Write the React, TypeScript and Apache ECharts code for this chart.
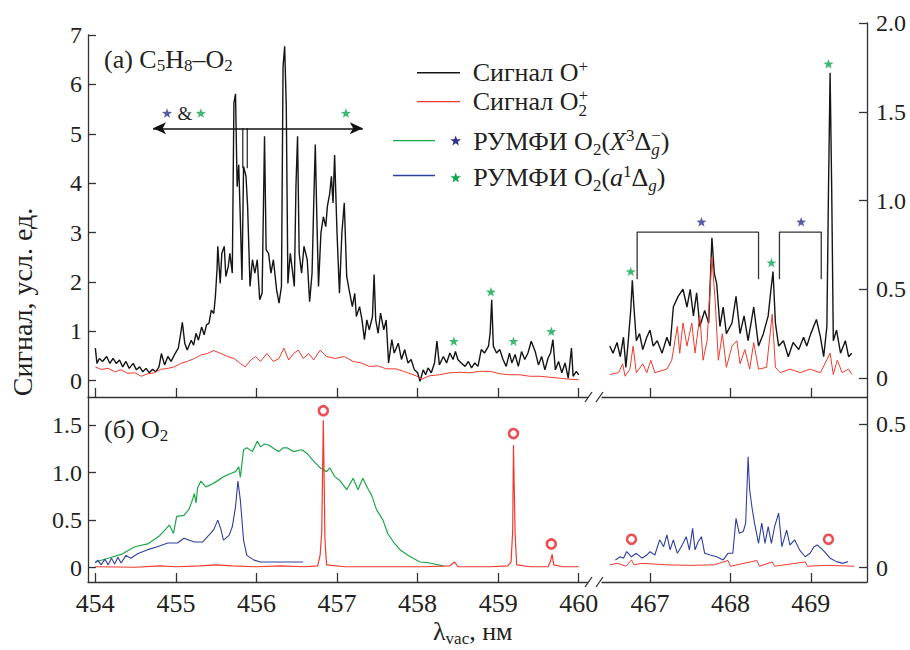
import React, { useEffect, useRef } from "react";
import * as echarts from "echarts";

const FONT = "Liberation Serif, Times New Roman, serif";
const TXT = "#231f20";
const AX = "#333333";
const C_BLACK = "#151515";
const C_RED = "#ef3a2e";
const C_GREEN = "#1fa64b";
const C_BLUE = "#2f3f9c";
const S_BLUE = "#2e3192";
const S_GREEN = "#10a650";

// ticks
const xTicksLeft = [454, 455, 456, 457, 458, 459, 460];
const xTicksRight = [467, 468, 469];
const yTicksTopLeft = [0, 1, 2, 3, 4, 5, 6, 7];
const yTicksTopRight = [0, 0.5, 1, 1.5, 2];
const yTicksBottomLeft = [0, 0.5, 1, 1.5];
const yTicksBottomRight = [0, 0.5];

// (a) C5H8-O2, signal O+ (left part, left axis)
const blackTopLeft = [
  [454.0, 0.66], [454.02, 0.35], [454.05, 0.45], [454.09, 0.39], [454.14, 0.49], [454.18, 0.35], [454.22, 0.45],
  [454.26, 0.35], [454.3, 0.42], [454.34, 0.28], [454.38, 0.39], [454.42, 0.25], [454.47, 0.35], [454.51, 0.22],
  [454.55, 0.28], [454.59, 0.18], [454.63, 0.25], [454.67, 0.16], [454.71, 0.23], [454.75, 0.18], [454.79, 0.28],
  [454.82, 0.55], [454.86, 0.32], [454.9, 0.49], [454.94, 0.39], [454.99, 0.55], [455.03, 0.66], [455.06, 0.96],
  [455.08, 1.18], [455.11, 0.76], [455.14, 0.62], [455.19, 0.82], [455.22, 0.72], [455.25, 0.96], [455.28, 0.82],
  [455.32, 1.09], [455.35, 0.93], [455.38, 1.13], [455.41, 1.16], [455.44, 1.43], [455.47, 1.36], [455.49, 1.7],
  [455.51, 2.24], [455.52, 2.72], [455.55, 1.97], [455.57, 2.58], [455.6, 2.72], [455.62, 2.11], [455.65, 2.31],
  [455.67, 2.58], [455.7, 2.18], [455.72, 5.62], [455.74, 5.81], [455.76, 3.93], [455.78, 4.37], [455.8, 3.26],
  [455.82, 2.04], [455.84, 4.34], [455.87, 4.14], [455.89, 3.53], [455.92, 1.91], [455.95, 2.45], [455.98, 2.18],
  [456.01, 2.45], [456.04, 1.64], [456.07, 1.77], [456.1, 4.95], [456.12, 2.65], [456.15, 2.58], [456.18, 2.18],
  [456.21, 2.45], [456.25, 1.84], [456.28, 1.57], [456.31, 1.91], [456.33, 6.36], [456.35, 6.77], [456.37, 5.55],
  [456.39, 1.97], [456.42, 2.58], [456.44, 2.31], [456.47, 1.91], [456.49, 3.93], [456.51, 4.95], [456.53, 2.58],
  [456.56, 2.18], [456.59, 2.72], [456.63, 2.45], [456.66, 1.6], [456.69, 2.18], [456.71, 3.53], [456.73, 4.78],
  [456.75, 3.26], [456.77, 1.91], [456.8, 2.99], [456.83, 3.32], [456.86, 3.12], [456.88, 3.53], [456.91, 3.8],
  [456.93, 4.14], [456.95, 3.6], [456.97, 4.57], [457.0, 2.99], [457.03, 1.77], [457.06, 2.99], [457.09, 3.6],
  [457.12, 2.11], [457.15, 1.84], [457.19, 1.5], [457.22, 1.77], [457.24, 1.3], [457.28, 1.5], [457.31, 1.23],
  [457.34, 0.83], [457.37, 1.23], [457.4, 1.03], [457.44, 1.3], [457.46, 2.15], [457.48, 1.23], [457.51, 0.96],
  [457.54, 1.37], [457.58, 1.03], [457.61, 1.23], [457.64, 0.36], [457.68, 0.83], [457.71, 0.56], [457.76, 0.76],
  [457.8, 0.43], [457.84, 0.63], [457.88, 0.36], [457.92, 0.43], [457.96, 0.22], [458.0, 0.16], [458.03, -0.01],
  [458.07, 0.22], [458.1, 0.12], [458.13, 0.26], [458.17, 0.16], [458.21, 0.36], [458.24, 0.8], [458.27, 0.32],
  [458.32, 0.49], [458.36, 0.36], [458.4, 0.56], [458.44, 0.43], [458.47, 0.59], [458.5, 0.43], [458.54, 0.36],
  [458.59, 0.29], [458.63, 0.39], [458.67, 0.26], [458.71, 0.36], [458.75, 0.29], [458.79, 0.63], [458.83, 0.56],
  [458.88, 0.7], [458.9, 0.96], [458.92, 1.64], [458.94, 0.7], [458.98, 0.56], [459.02, 0.63], [459.06, 0.43],
  [459.1, 0.29], [459.14, 0.56], [459.17, 0.36], [459.21, 0.53], [459.25, 0.29], [459.29, 0.59], [459.33, 0.43],
  [459.37, 0.56], [459.41, 0.8], [459.46, 0.59], [459.5, 0.32], [459.54, 0.49], [459.58, 0.22], [459.62, 0.46],
  [459.65, 0.56], [459.68, 0.83], [459.71, 0.22], [459.75, 0.39], [459.79, 0.16], [459.83, 0.36], [459.87, 0.05],
  [459.91, 0.66], [459.93, 0.09], [459.97, 0.19], [460.0, 0.12],
];

// (a) signal O2+ (left part)
const redTopLeft = [
  [454.0, 0.28], [454.07, 0.23], [454.16, 0.25], [454.24, 0.18], [454.32, 0.22], [454.4, 0.15], [454.49, 0.16],
  [454.57, 0.09], [454.65, 0.14], [454.73, 0.16], [454.81, 0.23], [454.9, 0.25], [454.98, 0.28], [455.06, 0.35],
  [455.14, 0.39], [455.23, 0.45], [455.31, 0.52], [455.39, 0.55], [455.47, 0.61], [455.56, 0.55], [455.64, 0.49],
  [455.72, 0.45], [455.8, 0.35], [455.86, 0.28], [455.93, 0.42], [455.99, 0.49], [456.05, 0.39], [456.13, 0.55],
  [456.21, 0.39], [456.28, 0.45], [456.34, 0.66], [456.4, 0.42], [456.46, 0.55], [456.52, 0.62], [456.58, 0.45],
  [456.65, 0.55], [456.71, 0.42], [456.79, 0.62], [456.87, 0.49], [456.98, 0.45], [457.09, 0.49], [457.2, 0.39],
  [457.3, 0.36], [457.4, 0.29], [457.51, 0.3], [457.61, 0.24], [457.73, 0.24], [457.86, 0.17], [457.98, 0.1],
  [458.05, 0.03], [458.15, 0.1], [458.27, 0.12], [458.4, 0.16], [458.52, 0.17], [458.65, 0.16], [458.77, 0.19],
  [458.9, 0.19], [459.02, 0.14], [459.15, 0.12], [459.27, 0.12], [459.39, 0.09], [459.52, 0.09], [459.64, 0.07],
  [459.77, 0.05], [459.89, 0.03], [460.0, 0.02],
];

// (a) signal O+ (right part, right axis)
const blackTopRight = [
  [466.5, 0.18], [466.54, 0.14], [466.59, 0.2], [466.63, 0.12], [466.67, 0.23], [466.7, 0.06], [466.73, 0.21],
  [466.76, 0.38], [466.78, 0.55], [466.8, 0.4], [466.83, 0.21], [466.87, 0.25], [466.91, 0.16], [466.96, 0.23],
  [467.0, 0.27], [467.04, 0.18], [467.09, 0.21], [467.15, 0.14], [467.21, 0.23], [467.25, 0.18], [467.29, 0.4],
  [467.35, 0.46], [467.41, 0.5], [467.46, 0.4], [467.5, 0.5], [467.54, 0.35], [467.58, 0.48], [467.62, 0.29],
  [467.68, 0.38], [467.73, 0.31], [467.77, 0.79], [467.8, 0.59], [467.83, 0.53], [467.87, 0.29], [467.91, 0.4],
  [467.95, 0.25], [468.02, 0.31], [468.07, 0.46], [468.12, 0.25], [468.17, 0.35], [468.22, 0.21], [468.29, 0.4],
  [468.35, 0.18], [468.41, 0.25], [468.47, 0.35], [468.5, 0.48], [468.53, 0.6], [468.56, 0.31], [468.6, 0.18],
  [468.66, 0.21], [468.72, 0.12], [468.78, 0.2], [468.85, 0.16], [468.91, 0.23], [468.95, 0.18], [469.0, 0.25],
  [469.07, 0.33], [469.12, 0.23], [469.16, 0.12], [469.2, 0.29], [469.22, 1.06], [469.24, 1.72], [469.26, 1.06],
  [469.28, 0.21], [469.32, 0.27], [469.37, 0.14], [469.43, 0.21], [469.47, 0.12], [469.51, 0.14],
];

// (a) signal O2+ (right part)
const redTopRight = [
  [466.5, 0.02], [466.61, 0.03], [466.66, 0.08], [466.69, 0.01], [466.75, 0.05], [466.79, 0.18], [466.83, 0.03],
  [466.91, 0.08], [466.96, 0.03], [467.01, 0.1], [467.06, 0.03], [467.21, 0.05], [467.27, 0.1], [467.34, 0.29],
  [467.37, 0.14], [467.41, 0.31], [467.46, 0.18], [467.52, 0.31], [467.56, 0.14], [467.62, 0.35], [467.66, 0.1],
  [467.71, 0.21], [467.77, 0.68], [467.81, 0.44], [467.85, 0.1], [467.9, 0.25], [467.95, 0.06], [468.02, 0.18],
  [468.08, 0.21], [468.12, 0.08], [468.18, 0.16], [468.24, 0.05], [468.29, 0.2], [468.35, 0.05], [468.45, 0.06],
  [468.52, 0.36], [468.56, 0.06], [468.62, 0.03], [468.74, 0.05], [468.87, 0.03], [468.99, 0.05], [469.12, 0.03],
  [469.24, 0.14], [469.28, 0.02], [469.33, 0.1], [469.39, 0.03], [469.47, 0.05], [469.51, 0.02],
];

// (б) O2: REMPI O2(X) (green)
const greenBottom = [
  [454.0, 0.06], [454.16, 0.1], [454.32, 0.14], [454.49, 0.22], [454.65, 0.25], [454.79, 0.33], [454.88, 0.41],
  [454.92, 0.45], [454.97, 0.36], [455.01, 0.54], [455.1, 0.55], [455.16, 0.61], [455.2, 0.7], [455.23, 0.78],
  [455.25, 0.68], [455.27, 0.84], [455.31, 0.91], [455.37, 0.85], [455.43, 0.87], [455.51, 0.91], [455.6, 0.96],
  [455.68, 0.99], [455.74, 1.01], [455.78, 1.06], [455.8, 0.95], [455.84, 1.24], [455.88, 1.26], [455.95, 1.22],
  [456.01, 1.33], [456.05, 1.27], [456.1, 1.3], [456.15, 1.29], [456.22, 1.25], [456.28, 1.22], [456.33, 1.26],
  [456.38, 1.26], [456.46, 1.22], [456.56, 1.24], [456.63, 1.2], [456.71, 1.12], [456.79, 1.05], [456.87, 1.01],
  [456.91, 1.05], [456.97, 0.96], [457.03, 0.92], [457.12, 0.82], [457.2, 0.94], [457.26, 0.82], [457.32, 0.94],
  [457.39, 0.82], [457.43, 0.76], [457.49, 0.61], [457.57, 0.5], [457.63, 0.36], [457.7, 0.27], [457.78, 0.19],
  [457.9, 0.12], [458.03, 0.06], [458.15, 0.05], [458.32, 0.02],
];

// (б) REMPI O2(a) (blue), left part
const blueBottomLeft = [
  [454.0, 0.05], [454.03, 0.08], [454.07, 0.03], [454.12, 0.09], [454.16, 0.03], [454.2, 0.1], [454.24, 0.04],
  [454.28, 0.11], [454.32, 0.05], [454.38, 0.13], [454.44, 0.1], [454.53, 0.15], [454.65, 0.19], [454.77, 0.22],
  [454.9, 0.26], [455.02, 0.26], [455.1, 0.31], [455.23, 0.27], [455.33, 0.27], [455.43, 0.36], [455.47, 0.4],
  [455.52, 0.5], [455.56, 0.4], [455.59, 0.29], [455.66, 0.34], [455.7, 0.43], [455.74, 0.64], [455.77, 0.91],
  [455.8, 0.71], [455.84, 0.29], [455.88, 0.13], [455.97, 0.08], [456.05, 0.06], [456.21, 0.06], [456.58, 0.06],
];

// (б) O2+ signal, left part (red)
const redBottomLeft = [
  [454.0, 0.01], [454.5, 0.005], [454.8, 0.02], [455.0, 0.01], [455.3, 0.02], [455.5, 0.03], [455.7, 0.02],
  [456.0, 0.01], [456.3, 0.02], [456.6, 0.01], [456.76, 0.02], [456.79, 0.13], [456.81, 0.37], [456.83, 1.55],
  [456.85, 0.3], [456.87, 0.03], [457.1, 0.01], [457.5, 0.01], [457.8, 0.01], [458.1, 0.01], [458.4, 0.02],
  [458.46, 0.06], [458.5, 0.01], [458.9, 0.01], [459.12, 0.02], [459.16, 0.06], [459.18, 0.38], [459.19, 1.29],
  [459.21, 0.36], [459.23, 0.03], [459.4, 0.01], [459.62, 0.01], [459.65, 0.07], [459.67, 0.14], [459.69, 0.03],
  [459.8, 0.01], [460.0, 0.01],
];

// (б) blue, right part
const blueBottomRight = [
  [466.57, 0.027], [466.63, 0.038], [466.67, 0.033], [466.71, 0.056], [466.77, 0.038], [466.83, 0.05], [466.9, 0.033],
  [466.96, 0.044], [467.0, 0.056], [467.06, 0.044], [467.12, 0.097], [467.17, 0.073], [467.21, 0.114], [467.25, 0.062],
  [467.29, 0.097], [467.34, 0.05], [467.39, 0.073], [467.45, 0.108], [467.49, 0.062], [467.53, 0.137], [467.56, 0.062],
  [467.6, 0.091], [467.64, 0.108], [467.68, 0.05], [467.75, 0.044], [467.83, 0.038], [467.91, 0.027], [467.97, 0.05],
  [468.03, 0.05], [468.07, 0.172], [468.11, 0.12], [468.16, 0.126], [468.19, 0.155], [468.22, 0.387], [468.24, 0.27],
  [468.27, 0.207], [468.3, 0.155], [468.35, 0.085], [468.39, 0.155], [468.43, 0.085], [468.47, 0.143], [468.51, 0.085],
  [468.55, 0.143], [468.6, 0.19], [468.64, 0.073], [468.7, 0.131], [468.74, 0.079], [468.8, 0.097], [468.86, 0.062],
  [468.93, 0.038], [468.99, 0.05], [469.04, 0.073], [469.08, 0.079], [469.15, 0.062], [469.24, 0.033], [469.32, 0.021],
  [469.4, 0.015], [469.46, 0.021],
];

// (б) red, right part
const redBottomRight = [
  [466.5, 0.01], [466.6, 0.015], [466.7, 0.005], [466.77, 0.027], [466.8, 0.01], [466.9, 0.015], [467.2, 0.01],
  [467.5, 0.008], [467.8, 0.01], [467.97, 0.025], [468.0, 0.005], [468.33, 0.025], [468.36, 0.005], [468.52, 0.02],
  [468.55, 0.005], [468.93, 0.02], [468.96, 0.005], [469.2, 0.008], [469.54, 0.005],
];

// markers
const blueStarsTopLeft = [[454.89, 5.42]];
const greenStarsTopLeft = [[455.31, 5.42], [457.11, 5.42], [458.45, 0.8], [458.91, 1.8], [459.19, 0.8], [459.66, 1.0]];
const greenStarsTopRight = [[466.76, 0.6], [468.51, 0.65], [469.22, 1.77]];
const blueStarsTopRight = [[467.64, 0.88], [468.88, 0.88]];
const circlesBottomLeft = [[456.83, 1.65], [459.19, 1.41], [459.66, 0.25]];
const circlesBottomRight = [[466.77, 0.099], [469.22, 0.099]];

// annotations (data coordinates)
const arrowSpan = { from: 454.716, to: 457.32, y: 5.11 };
const arrowLegs = [455.83, 455.886];
const arrowLegBottom = 4.3;
const bracket1 = [[466.84, 0.556], [466.84, 0.822], [468.35, 0.822], [468.35, 0.556]];
const bracket2 = [[468.61, 0.556], [468.61, 0.822], [469.13, 0.822], [469.13, 0.556]];

const STAR_PATH =
  "path://M0,-10L2.35,-3.24L9.51,-3.09L3.8,1.24L5.88,8.09L0,4L-5.88,8.09L-3.8,1.24L-9.51,-3.09L-2.35,-3.24Z";

function starPoints(cx: number, cy: number, R: number) {
  const pts: number[][] = [];
  for (let i = 0; i < 10; i++) {
    const r = i % 2 === 0 ? R : R * 0.42;
    const a = -Math.PI / 2 + (i * Math.PI) / 5;
    pts.push([cx + r * Math.cos(a), cy + r * Math.sin(a)]);
  }
  return pts;
}

// text measurement for formula-like labels (sub/superscripts)
let measureCtx: CanvasRenderingContext2D | null = null;
function textWidth(text: string, size: number, italic: boolean) {
  if (!measureCtx) measureCtx = document.createElement("canvas").getContext("2d");
  if (!measureCtx) return text.length * size * 0.5;
  measureCtx.font = `${italic ? "italic " : ""}${size}px ${FONT}`;
  return measureCtx.measureText(text).width;
}

// spec: "{n|text}{sub|2}{sup|+}{i|X}{subi|g}{supS|−}" ; supS is stacked over the previous piece
function formula(x0: number, baseline: number, spec: string, big = 26, small = 17, supDy = -9, subDy = 4) {
  const els: any[] = [];
  const re = /\{(\w+)\|([^}]*)\}/g;
  let m: RegExpExecArray | null;
  let cursor = x0;
  let prevStart = x0;
  while ((m = re.exec(spec))) {
    const kind = m[1];
    const t = m[2];
    const isSmall = kind !== "n" && kind !== "i";
    const size = isSmall ? small : big;
    const italic = kind === "i" || kind === "subi";
    const dy = kind.startsWith("sup") ? supDy : kind.startsWith("sub") ? subDy : 0;
    const stacked = kind === "supS";
    const x = stacked ? prevStart : cursor;
    const w = textWidth(t, size, italic);
    els.push({
      type: "text",
      x,
      y: baseline + dy - 0.3375 * size,
      silent: true,
      style: {
        text: t,
        fontSize: size,
        fontFamily: FONT,
        fontStyle: italic ? "italic" : "normal",
        fill: TXT,
        align: "left",
        verticalAlign: "middle",
      },
    });
    if (stacked) cursor = Math.max(cursor, x + w);
    else {
      prevStart = x;
      cursor = x + w;
    }
  }
  return els;
}

function lineSeries(data: any, xi: number, color: string, width: number, z = 2) {
  return {
    type: "line",
    xAxisIndex: xi,
    yAxisIndex: xi,
    data,
    showSymbol: false,
    symbol: "none",
    lineStyle: { color, width },
    z,
    silent: true,
  };
}

function starSeries(data: any, xi: number, color: string) {
  return {
    type: "scatter",
    xAxisIndex: xi,
    yAxisIndex: xi,
    data,
    symbol: STAR_PATH,
    symbolKeepAspect: true,
    symbolSize: 10,
    itemStyle: { color },
    z: 5,
    silent: true,
  };
}

function circleSeries(data: any, xi: number) {
  return {
    type: "scatter",
    xAxisIndex: xi,
    yAxisIndex: xi,
    data,
    symbol: "circle",
    symbolSize: 9,
    itemStyle: { color: "#ffffff", borderColor: "#e8202a", borderWidth: 2.6 },
    z: 5,
    silent: true,
  };
}

const fmt = (v: number) => (v === 0 ? "0" : v.toFixed(1));

function xAxisCfg(gi: number, min: number, max: number, ticks: number[], labels: boolean) {
  return {
    type: "value",
    gridIndex: gi,
    min,
    max,
    position: "bottom",
    axisLine: { show: true, onZero: false, lineStyle: { color: AX, width: 1.3 } },
    axisTick: { show: true, inside: true, length: 9, customValues: ticks, lineStyle: { color: AX, width: 1.3 } },
    axisLabel: {
      show: labels,
      customValues: ticks,
      fontFamily: FONT,
      fontSize: 26,
      color: TXT,
      margin: 8,
      formatter: (v: number) => String(v),
    },
    splitLine: { show: false },
  };
}

function yAxisCfg(gi: number, min: number, max: number, ticks: number[], pos: string, intLabels: boolean) {
  return {
    type: "value",
    gridIndex: gi,
    min,
    max,
    position: pos,
    axisLine: { show: true, onZero: false, lineStyle: { color: AX, width: 1.3 } },
    axisTick: { show: true, inside: true, length: 8, customValues: ticks, lineStyle: { color: AX, width: 1.3 } },
    axisLabel: {
      show: true,
      customValues: ticks,
      fontFamily: FONT,
      fontSize: 24,
      color: TXT,
      margin: pos === "left" ? 6 : 9,
      formatter: (v: number) => (intLabels ? String(v) : fmt(v)),
    },
    splitLine: { show: false },
  };
}

export default function App() {
  const ref = useRef<HTMLDivElement>(null);
  useEffect(() => {
    if (!ref.current) return;
    const chart = echarts.init(ref.current, null, { renderer: "svg" });

    const slash = (x1: number, y1: number, x2: number, y2: number) => ({
      type: "line",
      silent: true,
      shape: { x1, y1, x2, y2 },
      style: { stroke: AX, lineWidth: 1.3 },
    });

    const option: any = {
      animation: false,
      backgroundColor: "#ffffff",
      grid: [
        { left: 88, top: 35, width: 500, height: 362 },
        { left: 602, top: 23, width: 265, height: 374 },
        { left: 88, top: 397, width: 500, height: 185 },
        { left: 602, top: 397, width: 265, height: 185 },
      ],
      xAxis: [
        xAxisCfg(0, 453.909, 460.115, xTicksLeft, false),
        xAxisCfg(1, 466.403, 469.699, xTicksRight, false),
        xAxisCfg(2, 453.909, 460.115, xTicksLeft, true),
        xAxisCfg(3, 466.403, 469.699, xTicksRight, true),
      ],
      yAxis: [
        yAxisCfg(0, -0.33, 7, yTicksTopLeft, "left", true),
        yAxisCfg(1, -0.107, 2.0, yTicksTopRight, "right", false),
        yAxisCfg(2, -0.15, 1.794, yTicksBottomLeft, "left", false),
        yAxisCfg(3, -0.05, 0.595, yTicksBottomRight, "right", false),
      ],
      series: [
        lineSeries(blackTopLeft, 0, C_BLACK, 1.4),
        lineSeries(redTopLeft, 0, C_RED, 1.0),
        lineSeries(blackTopRight, 1, C_BLACK, 1.4),
        lineSeries(redTopRight, 1, C_RED, 1.0, 3),
        lineSeries(greenBottom, 2, C_GREEN, 1.2),
        lineSeries(blueBottomLeft, 2, C_BLUE, 1.1),
        lineSeries(redBottomLeft, 2, C_RED, 1.2, 3),
        lineSeries(blueBottomRight, 3, C_BLUE, 1.1),
        lineSeries(redBottomRight, 3, C_RED, 1.0, 3),
        lineSeries(bracket1, 1, "#333333", 1.3),
        lineSeries(bracket2, 1, "#333333", 1.3),
        lineSeries([[arrowLegs[0], arrowLegBottom], [arrowLegs[0], arrowSpan.y]], 0, "#333333", 1.3),
        lineSeries([[arrowLegs[1], arrowSpan.y], [arrowLegs[1], arrowLegBottom]], 0, "#333333", 1.3),
        {
          type: "line",
          xAxisIndex: 0,
          yAxisIndex: 0,
          data: [[arrowSpan.from, arrowSpan.y]],
          showSymbol: false,
          symbol: "none",
          silent: true,
          markLine: {
            silent: true,
            symbol: ["arrow", "arrow"],
            symbolSize: [9, 13],
            label: { show: false },
            lineStyle: { color: "#111111", width: 1.5, type: "solid" },
            data: [[{ coord: [arrowSpan.from, arrowSpan.y] }, { coord: [arrowSpan.to, arrowSpan.y] }]],
          },
        },
        starSeries(blueStarsTopLeft, 0, S_BLUE),
        starSeries(greenStarsTopLeft, 0, S_GREEN),
        starSeries(greenStarsTopRight, 1, S_GREEN),
        starSeries(blueStarsTopRight, 1, S_BLUE),
        circleSeries(circlesBottomLeft, 2),
        circleSeries(circlesBottomRight, 3),
      ],
      graphic: [
        // axis breaks
        slash(585, 402, 592, 392),
        slash(596, 402, 603, 392),
        slash(585, 587, 592, 577),
        slash(596, 587, 603, 577),
        // panel labels
        ...formula(104, 68.3, "{n|(a) C}{sub|5}{n|H}{sub|8}{n|–O}{sub|2}", 26, 17, -9, 3),
        ...formula(104, 438, "{n|(б) O}{sub|2}", 26, 17, -9, 3),
        // "&"
        {
          type: "text",
          x: 185,
          y: 113,
          silent: true,
          style: { text: "&", fontFamily: FONT, fontSize: 19, fill: TXT, align: "center", verticalAlign: "middle" },
        },
        // legend
        { type: "line", silent: true, shape: { x1: 417, y1: 72.7, x2: 460, y2: 72.7 }, style: { stroke: C_BLACK, lineWidth: 1.4 } },
        { type: "line", silent: true, shape: { x1: 417, y1: 101.7, x2: 460, y2: 101.7 }, style: { stroke: C_RED, lineWidth: 1.2 } },
        { type: "line", silent: true, shape: { x1: 393, y1: 140.7, x2: 435, y2: 140.7 }, style: { stroke: C_GREEN, lineWidth: 1.3 } },
        { type: "line", silent: true, shape: { x1: 393, y1: 175.5, x2: 435, y2: 175.5 }, style: { stroke: C_BLUE, lineWidth: 1.3 } },
        { type: "polygon", silent: true, shape: { points: starPoints(455.7, 141, 5.5) }, style: { fill: S_BLUE } },
        { type: "polygon", silent: true, shape: { points: starPoints(455.7, 178, 5.5) }, style: { fill: S_GREEN } },
        ...formula(472.7, 81.7, "{n|Сигнал O}{sup|+}", 26, 17, -9, 5),
        ...formula(472.7, 110, "{n|Сигнал O}{sub|2}{supS|+}", 26, 17, -9, 6),
        ...formula(473.3, 150, "{n|РУМФИ O}{sub|2}{n|(}{i|X}{sup|3}{n|Δ}{subi|g}{supS|−}{n|)}", 26, 17, -9, 5),
        ...formula(473.3, 186.7, "{n|РУМФИ O}{sub|2}{n|(}{i|a}{sup|1}{n|Δ}{subi|g}{n|)}", 26, 17, -9, 5),
        // axis titles
        {
          type: "text",
          x: 22,
          y: 302,
          rotation: Math.PI / 2,
          silent: true,
          style: {
            text: "Сигнал, усл. ед.",
            fontFamily: FONT,
            fontSize: 28,
            fill: TXT,
            align: "center",
            verticalAlign: "middle",
          },
        },
        ...formula(433, 640, "{n|λ}{sub|vac}{n|, нм}", 26, 17, -9, 4),
      ],
    };

    chart.setOption(option);
    return () => chart.dispose();
  }, []);

  return (
    <div
      ref={ref}
      style={{ position: "fixed", left: 0, top: 0, width: 910, height: 650, background: "#ffffff" }}
    />
  );
}
